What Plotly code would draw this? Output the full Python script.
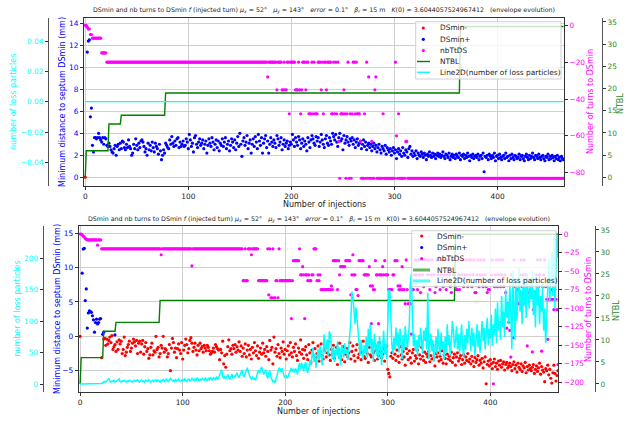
import plotly.graph_objects as go

W, H = 627, 424
FONT = "DejaVu Sans"

# ===================== DATA =====================
X_TICKS = [0, 100, 200, 300, 400]

# ---- top panel ----
TOP_DSMIN_MINUS = [0.0]
TOP_DSMIN_PLUS = [
    None, None, 11.4, 12.4, 12.5, 5.5, 6.3, 2.9, 2.3, 3.6, 3.6, 3.5, 3.6, 4.0, 3.6, 3.4, 3.2, 3.6, 3.0, 3.6,
    3.5, 2.9, 2.8, 3.1, 2.8, 2.5, 2.3, 2.2, 2.6, 2.9, 2.0, 2.8, 3.0, 2.5, 3.1, 2.6, 3.3, 3.2, 2.7, 2.5,
    3.0, 2.7, 3.4, 2.8, 2.6, 2.0, 2.2, 3.0, 2.6, 3.5, 2.9, 2.5, 3.1, 2.7, 3.3, 3.4, 3.2, 2.8, 2.3, 2.6,
    2.0, 3.1, 2.5, 2.9, 2.4, 3.2, 2.7, 2.3, 3.1, 2.8, 2.6, 2.1, 3.0, 2.4, 1.6, 2.0, 2.5, 2.2, 3.1, 2.9,
    2.7, 2.6, 3.4, 3.0, 3.7, 3.1, 2.8, 3.3, 2.9, 3.5, 3.6, 2.7, 3.2, 2.8, 3.0, 3.3, 2.8, 2.9, 3.5, 3.2,
    2.6, 3.9, 3.4, 2.8, 3.1, 2.3, 3.6, 3.8, 3.0, 2.7, 3.2, 3.5, 2.9, 3.1, 3.4, 2.6, 3.0, 3.3, 2.2, 2.9,
    3.5, 3.1, 2.8, 3.6, 3.2, 2.5, 3.0, 3.4, 2.7, 3.3, 2.4, 3.1, 2.9, 3.5, 2.8, 3.2, 3.6, 2.6, 3.0, 3.3,
    2.4, 2.9, 3.5, 3.2, 2.7, 3.4, 2.5, 3.1, 3.7, 2.8, 4.0, 3.0, 1.9, 3.3, 3.6, 2.9, 3.2, 3.8, 2.6, 3.1,
    3.4, 2.2, 3.0, 3.5, 2.8, 3.7, 3.2, 2.6, 3.9, 3.3, 2.9, 3.6, 2.2, 3.1, 3.5, 3.8, 2.7, 3.3, 2.2, 3.0,
    3.6, 3.2, 2.8, 3.4, 3.1, 2.7, 3.8, 3.5, 2.9, 3.2, 3.6, 2.5, 3.0, 3.4, 2.8, 3.1, 3.3, 2.6, 2.9, 3.2,
    3.0, 3.9, 3.4, 2.8, 3.6, 3.2, 2.9, 3.7, 3.4, 2.6, 3.1, 3.5, 2.8, 3.3, 3.0, 2.4, 3.6, 3.2, 2.7, 3.4,
    3.8, 3.5, 3.1, 2.9, 3.7, 3.3, 3.6, 2.8, 3.2, 3.9, 3.4, 3.0, 2.7, 3.5, 3.8, 3.1, 2.9, 3.6, 3.3, 3.0,
    4.0, 3.7, 3.4, 3.9, 3.2, 2.8, 3.6, 4.0, 3.3, 3.5, 2.5, 3.8, 3.1, 3.4, 3.7, 3.2, 2.9, 3.5, 3.3, 3.6,
    3.0, 3.4, 2.7, 3.2, 3.5, 2.9, 3.1, 3.3, 2.6, 3.0, 3.4, 2.8, 3.2, 2.5, 2.9, 3.1, 2.7, 3.0, 2.4, 2.8,
    3.1, 2.6, 2.9, 2.3, 2.7, 3.0, 2.5, 2.2, 2.8, 2.6, 2.4, 2.9, 2.1, 2.7, 2.5, 2.3, 2.6, 2.0, 2.4, 2.7,
    2.2, 2.5, 1.7, 2.3, 2.6, 2.1, 2.4, 1.9, 2.7, 2.2, 2.0, 2.5, 2.3, 1.8, 2.6, 2.8, 2.1, 2.4, 1.9, 2.2,
    2.0, 2.4, 1.7, 2.2, 2.0, 1.9, 2.3, 2.1, 1.8, 2.2, 2.0, 1.6, 2.1, 1.9, 2.3, 2.0, 1.8, 2.2, 1.9, 2.1,
    1.7, 2.0, 2.2, 1.9, 2.1, 1.8, 2.0, 2.3, 1.9, 1.7, 2.1, 2.0, 1.8, 2.2, 1.6, 1.9, 2.1, 1.8, 2.0, 1.7,
    2.1, 1.9, 1.8, 2.2, 1.6, 2.0, 1.9, 2.1, 1.7, 2.0, 1.8, 2.2, 1.9, 1.5, 2.0, 1.8, 2.1, 1.7, 1.9, 2.0,
    1.8, 2.1, 1.6, 1.9, 2.0, 1.7, 2.2, 0.5, 1.9, 1.8, 2.0, 1.6, 2.1, 1.9, 1.7, 2.0, 1.8, 2.2, 1.5, 1.9,
    2.0, 1.7, 2.1, 1.8, 1.6, 1.9, 2.0, 1.7, 2.2, 1.8, 1.9, 1.5, 2.0, 1.7, 2.1, 1.8, 1.6, 2.0, 1.9, 1.7,
    1.8, 2.1, 1.6, 1.9, 2.0, 1.7, 1.5, 1.9, 2.1, 1.8, 1.6, 2.0, 1.7, 1.9, 2.2, 1.8, 1.6, 2.0, 1.9, 1.7,
    2.1, 1.8, 1.6, 1.9, 2.0, 1.7, 1.5, 1.9, 1.8, 2.1, 1.6, 1.9, 1.7, 2.0, 1.8, 1.5, 1.9, 1.7, 2.0, 1.6,
    1.8, 1.5, 1.9, 1.7, 1.6,
]
TOP_NBTTDS = ([0, 0, -1, -2, -2, -5, -5] + [-7] * 9 + [-15] * 5 + [-20] * 155 + [
    -20, -28, -20, -20, -20, -20, -20, -20, -20, -20,
    -35, -20, -20, -20, -20, -35, -35, -20, -35, -35,
    -20, -20, -48, -20, -20, -20, -20, -20, -35, -35,
    -35, -20, -35, -48, -35, -20, -20, -20, -35, -20,
    -20, -48, -48, -48, -20, -48, -20, -48, -48, -48,
    -20, -20, -20, -35, -20, -48, -20, -20, -35, -20,
    -20, -20, -20, -48, -48, -20, -48, -20, -48, -20,
    -63, -83, -48, -48, -48, -35, -48, -83, -48, -20,
    -83, -48, -83, -48, -20, -20, -48, -20, -48, -48,
    -48, -63, -83, -83, -83, -48, -83, -20, -83, -28,
    -83, -83, -63, -83, -83, -35, -28, -83, -83, -83,
    -83, -83, -83, -48, -83, -83, -83, -83, -83, -83,
    -83, -83, -83, -83, -83, -20, -60, -83, -48, -83,
    -83, -83, -83, -83, -83, -63, -63,
] + [-83] * 152)
TOP_NTBL_X = [0, 1, 22, 23, 34, 35, 77, 78, 363, 364, 464]
TOP_NTBL_Y = [0, 6, 6, 12, 12, 14, 14, 19, 19, 34, 34]
TOP_LOSS = [0] * 465

# ---- bottom panel ----
BOT_DSMIN_MINUS = [0.0] + [None] * 19 + [
    None, -3.1, None, -0.4, -0.3, -1.3, -0.4, -1.1, -0.6, -0.1, -0.9, 0.1, -1.9, -1.5, -1.2, -2.2, -0.8, -1.9, -0.5, -1.1,
    -0.7, -2.5, -1.9, -0.1, -2.8, -2.3, -1.6, -1.2, -0.7, -2.2, -1.7, -1.0, -0.4, -0.8, -1.4, -0.6, -2.5, -1.0, -0.7, -2.3,
    -1.1, -0.6, -2.6, -1.5, -0.9, -2.2, -1.8, -3.2, -2.7, -1.6, -1.0, -2.7, -2.1, -2.3, 0.0, -1.9, -1.6, -3.0, -2.5, -1.3,
    -1.7, 0.0, -2.3, -1.8, -2.0, -3.0, -2.5, -1.2, -5.0, -1.7, -0.3, -0.9, -2.3, -1.7, -3.1, -1.8, -1.1, -2.0, -2.5, -0.9,
    -3.3, -2.0, -1.3, -0.4, -1.2, -2.4, -1.8, -0.6, -0.2, -1.0, -2.2, -1.6, -1.0, -2.0, -2.7, -1.3, -2.1, -1.0, -1.8, -1.5,
    -2.3, -1.3, -1.7, -2.1, -1.3, -1.6, -2.1, -2.6, -2.4, -2.2, -1.7, -2.3, -1.2, -1.5, -1.8, -2.0, -3.4, -1.9, -2.4, -0.7,
    -4.0, -2.8, -4.5, -2.6, -1.5, -0.5, -2.1, -1.8, -2.6, -1.3, -1.8, -1.2, -2.3, -1.5, -2.0, -0.8, -2.2, -1.4, -2.9, -1.7,
    -2.5, -1.1, -3.0, -2.0, -1.3, -2.7, -1.9, -3.3, -1.6, -2.4, -0.9, -2.1, -2.8, -1.4, -3.2, -2.3, -1.7, -2.6, -1.0, -2.4,
    -1.9, -2.9, -1.5, -2.2, -3.4, -0.6, -2.0, -1.6, -4.0, -0.1, -2.3, -1.8, -2.9, -1.2, -2.5, -3.1, -1.7, -2.2, -0.8, -2.6,
    -1.9, -3.3, -2.1, -1.4, -2.7, -0.9, -2.4, -3.0, -1.6, -2.2, -1.1, -2.8, -3.5, -1.7, -2.3, -0.5, -2.6, -1.9, -3.2, -2.0,
    -1.5, -2.7, -3.4, -1.2, -2.4, -3.8, -2.0, -0.9, -2.9, -1.8, -3.1, -2.5, -1.4, -3.6, -2.2, -1.1, -2.8, -3.3, -2.0, -1.7,
    -3.0, -2.4, -0.8, -2.7, -3.5, -1.9, -2.6, -1.3, -3.2, -2.3, -1.6, -4.1, -2.5, -1.0, -2.9, -3.4, -2.1, -1.5, -3.7, -2.6,
    -1.8, -3.0, -2.4, -0.9, -3.3, -2.2, -1.4, -2.8, -3.6, -2.0, -1.2, -3.1, -2.6, -1.7, -3.4, -2.3, -0.7, -2.9, -3.2, -1.9,
    -2.5, -3.8, -1.6, -2.7, -3.0, -1.1, -2.4, -3.5, -2.1, -1.5, -3.3, -2.8, -0.9, -2.2, -3.1, -2.6, -1.8, -3.6, -2.3, -1.4,
    -4.8, -5.4, -5.9, -2.9, -2.4, -3.2, -1.7, -2.6, -3.5, -2.0, -2.9, -3.8, -1.5, -2.7, -3.3, -2.2, -3.0, -4.2, -1.8, -2.5,
    -3.4, -2.1, -3.1, -3.9, -2.4, -1.9, -3.6, -2.8, -3.2, -2.0, -4.0, -2.7, -3.3, -1.6, -2.9, -3.5, -2.3, -3.8, -2.6, -3.0,
    -2.2, -3.7, -2.8, -3.3, -1.8, -3.1, -4.3, -2.5, -3.0, -2.4, -3.6, -2.9, -3.4, -2.1, -3.9, -2.7, -3.2, -4.0, -2.6, -3.3,
    -2.9, -3.5, -2.3, -3.8, -3.1, -2.6, -4.2, -3.0, -2.4, -3.6, -3.2, -2.8, -4.1, -3.4, -2.7, -3.9, -3.0, -3.5, -2.5, -3.7,
    -3.3, -4.0, -2.9, -3.6, -4.4, -3.1, -3.8, -3.4, -2.8, -4.2, -3.5, -3.9, -3.2, -4.6, -3.7, -3.0, -6.9, -4.1, -3.6, -4.3,
    -3.4, -4.0, -4.7, -3.8, -3.3, -4.4, -3.9, -4.8, -3.6, -4.2, -3.5, -4.5, -4.0, -3.7, -4.9, -4.1, -3.8, -4.6, -4.3, -3.9,
    -4.4, -5.0, -4.1, -3.7, -4.7, -4.2, -5.2, -3.9, -4.5, -4.8, -4.0, -5.1, -4.3, -4.6, -3.8, -5.3, -4.4, -4.9, -4.2, -4.7,
    -5.0, -4.5, -4.1, -5.4, -4.8, -4.3, -5.1, -4.6, -3.9, -5.5, -4.4, -4.9, -5.2, -6.6, -4.7, -5.0, -4.2, -5.6, -4.8, -6.1,
    -6.8, -5.3, -4.2, -5.4, -6.5, -5.7, -5.0,
]
BOT_DSMIN_PLUS = [
    None, None, 9.2, 12.7, 12.8, 5.2, 6.9, 1.2, 3.4, 3.7, 3.6, 3.5, 3.0, 2.4, 0.6, 2.0, 2.5, 1.8, 2.0, 2.5,
    2.6, None, 0.3, 0.6, None, None, None, None, None, None, None, None, None, None, 0.2,
]
BOT_NBTTDS = ([0, 0, -1, -3, -4, -6, -7] + [-8] * 10 + [-15] + [-8] * 3 + [-20] * 58 + [-28]
              + [-20] * 29 + [-43] + [-20] * 49 + [
    -63, -63, -20, -63, -63, -20, -20, -20, -28, -20,
    -20, -20, -20, -20, -20, -63, -63, -63, -63, -63,
    -63, -63, -63, -63, -20, -82, -20, -86, -86, -20,
    -86, -86, -63, -63, -86, -20, -63, -63, -63, -63,
    -63, -63, -63, -63, -63, -63, -63, -114, -63, -36,
    -36, -36, -36, -36, -36, -20, -55, -55, -44, -55,
    -114, -55, -55, -63, -55, -63, -63, -55, -55, -20,
    -20, -20, -63, -55, -63, -55, -75, -75, -75, -75,
    -75, -75, -75, -75, -75, -75, -70, -75, -36, -36,
    -36, -36, -75, -36, -55, -44, -44, -44, -44, -44,
    -36, -36, -36, -36, -36, -82, -55, -28, -55, -55,
    -75, -75, -83, -36, -36, -36, -36, -36, -55, -55,
    -55, -55, -55, -44, -70, -121, -70, -75, -75, -36,
    -55, -55, -121, -55, -55, -55, -44, -55, -36, -55,
    -55, -55, -75, -75, -75, -75, -55, -55, -36, -36,
    -36, -70, -75, -70, -75, -44, -75, -75, -94, -35,
    -75, -94, -94, -94, -135, -75, -75, -55, -35, -55,
    -75, -35, -55, -79, -35, -55, -71, -35, -142, -35,
    -55, -35, -75, -55, -35, -150, -55, -79, -71, -35,
    -55, -35, -75, -55, -35, -71, -55, -35, -75, -55,
    -35, -55, -71, -79, -35, -55, -35, -71, -75, -75,
    -55, -75, -35, -55, -35, -71, -55, -35, -55, -71,
    -35, -55, -35, -71, -55, -35, -79, -79, -55, -35,
    -71, -55, -35, -55, -71, -35, -55, -71, -79, -75,
    -75, -138, -55, -35, -202, -71, -55, -35, -71, -55,
    -35, -71, -55, -35, -71, -55, -79, -127, -94, -119,
    -130, -166, -55, -140, -35, -71, -94, -75, -94, -94,
    -55, -35, -71, -55, -35, -71, -55, -151, -79, -79,
    -75, -79, -159, -102, -79, -79, -55, -35, -71, -55,
    -35, -158, -71, -55, -35, -71, -88, -142, -88, -88,
    -75, -88, -88, -102, -75, -88, -102, -176,
])
BOT_NTBL_X = [0, 1, 22, 23, 34, 35, 77, 78, 365, 366, 466]
BOT_NTBL_Y = [0, 6, 6, 12, 12, 14, 14, 19, 19, 34, 34]
BOT_LOSS = [0] * 20 + [
    0, 1, 2, 3, 4, 3, 5, 7, 9, 4, 3, 5, 4, 6, 3, 4, 5, 7, 8, 4,
    3, 5, 4, 6, 4, 3, 5, 4, 6, 5, 4, 3, 5, 6, 4, 5, 7, 4, 3, 5,
    6, 4, 5, 3, 6, 5, 4, 7, 5, 3, 5, 6, 4, 5, 7, 4, 6, 5, 3, 6,
    5, 7, 4, 6, 8, 5, 4, 6, 9, 7, 5, 6, 4, 7, 5, 6, 8, 5, 4, 6,
    7, 5, 9, 6, 4, 7, 8, 5, 6, 9, 7, 5, 8, 6, 10, 7, 5, 8, 6, 9,
    7, 6, 10, 8, 5, 9, 7, 11, 8, 6, 10, 9, 7, 12, 8, 10, 14, 18, 23, 12,
    9, 13, 8, 11, 15, 10, 7, 12, 16, 9, 13, 11, 14, 18, 12, 10, 15, 20, 22, 14,
    11, 17, 24, 26, 19, 13, 10, 8, 12, 7, 9, 6, 14, 18, 22, 17, 24, 27, 21, 15,
    19, 23, 13, 9, 18, 21, 12, 6, 3, 5, 2, 8, 14, 22, 26, 24, 19, 25, 16, 12,
    10, 14, 9, 13, 17, 22, 26, 20, 24, 18, 25, 21, 15, 28, 33, 24, 34, 27, 20, 31,
    35, 22, 18, 25, 38, 30, 45, 58, 35, 48, 26, 42, 55, 38, 62, 44, 30, 52, 79, 48,
    64, 71, 45, 84, 78, 52, 40, 60, 35, 55, 45, 68, 40, 58, 30, 62, 50, 42, 65, 48,
    56, 38, 60, 75, 100, 147, 140, 120, 95, 122, 108, 85, 65, 45, 70, 55, 38, 62, 48, 75,
    42, 88, 60, 95, 50, 72, 35, 80, 56, 45, 68, 40, 76, 52, 30, 58, 85, 47, 63, 40,
    120, 150, 148, 95, 62, 48, 74, 55, 90, 60, 82, 50, 88, 65, 40, 78, 55, 92, 70, 58,
    72, 95, 160, 175, 110, 60, 80, 52, 70, 45, 78, 58, 90, 65, 48, 85, 70, 90, 55, 145,
    40, 62, 80, 52, 70, 35, 58, 75, 48, 88, 60, 45, 82, 55, 68, 40, 75, 50, 95, 62,
    78, 45, 70, 100, 85, 58, 68, 92, 55, 80, 48, 72, 95, 60, 42, 78, 55, 88, 65, 100,
    75, 52, 90, 60, 82, 45, 70, 95, 58, 85, 50, 75, 100, 68, 90, 55, 80, 105, 62, 88,
    72, 110, 60, 95, 78, 120, 65, 130, 85, 100, 70, 140, 90, 115, 75, 150, 105, 130, 95, 160,
    110, 55, 180, 120, 70, 165, 100, 145, 185, 115, 150, 95, 170, 125, 160, 105, 175, 140, 120, 165,
    135, 180, 110, 150, 90, 170, 125, 155, 95, 140, 115, 160, 85, 120, 65, 105, 160, 200, 130, 175,
    210, 140, 236, 120, 190, 238, 200,
]

# tick values
TOP_DS_TICKS = [0, 2, 4, 6, 8, 10, 12, 14]
TOP_NB_TICKS = [0, -20, -40, -60, -80]
TOP_LOSS_TICKS = [-0.04, -0.02, 0.0, 0.02, 0.04]
NTBL_TICKS = [0, 5, 10, 15, 20, 25, 30, 35]
BOT_DS_TICKS = [-5, 0, 5, 10, 15]
BOT_NB_TICKS = [0, -25, -50, -75, -100, -125, -150, -175, -200]
BOT_LOSS_TICKS = [0, 50, 100, 150, 200]

TITLE = ("DSmin and nb turns to DSmin <i>f</i> (injected turn) <i>μ<sub>x</sub></i> = 52°\u00a0\u00a0\u00a0"
         "<i>μ<sub>y</sub></i> = 143°\u00a0\u00a0\u00a0<i>error</i> = 0.1°\u00a0\u00a0\u00a0"
         "<i>β<sub>r</sub></i> = 15 m\u00a0\u00a0\u00a0<i>K</i>(0) = 3.6044057524967412\u00a0\u00a0\u00a0"
         "(envelope evolution)")
LEGEND_LABELS = ["DSmin-", "DSmin+", "nbTtDS", "NTBL", "Line2D(number of loss particles)"]

# ===================== FIGURE =====================
def xp(p):
    return p / W


def yp(p):
    return 1 - p / H


RED, BLUE, MAG, GREEN, CYAN = "#ff0000", "#0000ff", "#ff00ff", "#008000", "#00ffff"
NTBL_TXT = "#2e8b2e"
MS = 3.2

fig = go.Figure()


def add_panel(sfx, ds_minus, ds_plus, nb, ntx, nty, loss, loss_w):
    xa = "x" if sfx == 0 else "x2"
    ys = ["y", "y2", "y3", "y4"] if sfx == 0 else ["y5", "y6", "y7", "y8"]
    fig.add_trace(go.Scatter(x=list(range(len(ds_minus))), y=ds_minus, mode="markers",
                             marker=dict(color=RED, size=MS), xaxis=xa, yaxis=ys[0]))
    fig.add_trace(go.Scatter(x=list(range(len(ds_plus))), y=ds_plus, mode="markers",
                             marker=dict(color=BLUE, size=MS), xaxis=xa, yaxis=ys[0]))
    fig.add_trace(go.Scatter(x=list(range(len(nb))), y=nb, mode="markers",
                             marker=dict(color=MAG, size=MS), xaxis=xa, yaxis=ys[1]))
    fig.add_trace(go.Scatter(x=ntx, y=nty, mode="lines",
                             line=dict(color=GREEN, width=1.4), xaxis=xa, yaxis=ys[2]))
    fig.add_trace(go.Scatter(x=list(range(len(loss))), y=loss, mode="lines",
                             line=dict(color=CYAN, width=loss_w), xaxis=xa, yaxis=ys[3]))


add_panel(0, TOP_DSMIN_MINUS, TOP_DSMIN_PLUS, TOP_NBTTDS, TOP_NTBL_X, TOP_NTBL_Y, TOP_LOSS, 1.2)
add_panel(1, BOT_DSMIN_MINUS, BOT_DSMIN_PLUS, BOT_NBTTDS, BOT_NTBL_X, BOT_NTBL_Y, BOT_LOSS, 1.5)

TF = dict(family=FONT, size=7.4)
common_x = dict(showgrid=True, gridcolor="#cfcfcf", gridwidth=1, zeroline=False, showline=True,
                mirror=True, linecolor="#333", linewidth=1, ticks="outside", ticklen=3,
                tickcolor="#333", tickvals=X_TICKS, tickfont=dict(TF, color="#222"))
common_y = dict(zeroline=False, ticks="outside", ticklen=3, tickcolor="#333")

top_dom = [yp(186), yp(18)]
bot_dom = [yp(392), yp(226)]

fig.update_layout(
    width=W, height=H, margin=dict(l=0, r=0, t=0, b=0),
    paper_bgcolor="white", plot_bgcolor="white", showlegend=False,
    font=dict(family=FONT, color="#222"),
    xaxis=dict(common_x, domain=[xp(84), xp(564)], anchor="y", range=[-1.2, 464.5]),
    yaxis=dict(common_y, domain=top_dom, anchor="x", range=[-0.8, 14.5], tickvals=TOP_DS_TICKS,
               showgrid=True, gridcolor="#cfcfcf", showline=True, mirror=True, linecolor="#333",
               tickfont=dict(TF, color=BLUE)),
    yaxis2=dict(common_y, overlaying="y", anchor="x", side="right", range=[-87.2, 3.96],
                tickvals=TOP_NB_TICKS, showgrid=False, tickfont=dict(TF, color=MAG)),
    yaxis3=dict(common_y, overlaying="y", anchor="free", position=xp(602), side="right",
                range=[-1.96, 35.9], tickvals=NTBL_TICKS, showgrid=False, showline=True,
                linecolor="#555", tickfont=dict(TF, color=NTBL_TXT)),
    yaxis4=dict(common_y, overlaying="y", anchor="free", position=xp(48), side="left",
                range=[-0.0556, 0.0552], tickvals=TOP_LOSS_TICKS, tickformat=".2f", showgrid=False,
                showline=True, linecolor="#555", tickfont=dict(TF, color=CYAN)),
    xaxis2=dict(common_x, domain=[xp(78.7), xp(558.3)], anchor="y5", range=[-1.4, 466.3]),
    yaxis5=dict(common_y, domain=bot_dom, anchor="x2", range=[-8.1, 16.06], tickvals=BOT_DS_TICKS,
                showgrid=True, gridcolor="#cfcfcf", showline=True, mirror=True, linecolor="#333",
                tickfont=dict(TF, color=BLUE)),
    yaxis6=dict(common_y, overlaying="y5", anchor="x2", side="right", range=[-213.1, 10.8],
                tickvals=BOT_NB_TICKS, showgrid=False, tickfont=dict(TF, color=MAG)),
    yaxis7=dict(common_y, overlaying="y5", anchor="free", position=xp(595), side="right",
                range=[-1.82, 35.9], tickvals=NTBL_TICKS, showgrid=False, showline=True,
                linecolor="#555", tickfont=dict(TF, color=NTBL_TXT)),
    yaxis8=dict(common_y, overlaying="y5", anchor="free", position=xp(42.7), side="left",
                range=[-12.7, 251.4], tickvals=BOT_LOSS_TICKS, showgrid=False, showline=True,
                linecolor="#555", tickfont=dict(TF, color=CYAN)),
)

ann = []
shapes = []


def text(x, y, s, size, color="#222", angle=0, xanchor="center"):
    ann.append(dict(x=xp(x), y=yp(y), xref="paper", yref="paper", text=s, showarrow=False,
                    textangle=angle, xanchor=xanchor, yanchor="middle",
                    font=dict(family=FONT, size=size, color=color)))


# titles
text(324, 10, TITLE, 6.3)
text(319, 219, TITLE, 6.3)
text(324, 204, "Number of injections", 8)
text(318, 411.5, "Number of injections", 8)
# y titles top
text(13, 102, "number of loss particles", 8, CYAN, -90)
text(62, 102, "Minimum distance to septum DSmin (mm)", 8, BLUE, -90)
text(590, 102, "Number of turns to DSmin", 8, MAG, -90)
text(621, 104, "NTBL", 8, NTBL_TXT, -90)
# y titles bottom
text(16.7, 309, "number of loss particles", 8, CYAN, -90)
text(57, 309, "Minimum distance to septum DSmin (mm)", 8, BLUE, -90)
text(588, 310, "Number of turns to DSmin", 8, MAG, -90)
text(616, 311, "NTBL", 8, NTBL_TXT, -90)


def legend(bx0, bx1, by0, by1, rows, mx, tx, lx0, lx1, lw, gcol, ccol):
    shapes.append(dict(type="rect", xref="paper", yref="paper", x0=xp(bx0), x1=xp(bx1),
                       y0=yp(by1), y1=yp(by0), fillcolor="rgba(255,255,255,0.8)",
                       line=dict(color="#d0d0d0", width=1), layer="above"))
    for i, (lab, col) in enumerate(zip(LEGEND_LABELS, [RED, BLUE, MAG, gcol, ccol])):
        ry = rows[i]
        if i < 3:
            r = 1.6
            shapes.append(dict(type="circle", xref="paper", yref="paper", x0=xp(mx - r), x1=xp(mx + r),
                               y0=yp(ry + r), y1=yp(ry - r), fillcolor=col, line=dict(width=0),
                               layer="above"))
        else:
            shapes.append(dict(type="line", xref="paper", yref="paper", x0=xp(lx0), x1=xp(lx1),
                               y0=yp(ry), y1=yp(ry), line=dict(color=col, width=lw), layer="above"))
        text(tx, ry, lab, 7.4, "#222", 0, "left")


legend(415.7, 561, 21.7, 79, [28, 39.3, 50.5, 61.5, 72.3], 423.3, 438.3, 417, 430, 1.4, GREEN, CYAN)
legend(411.7, 556, 230.7, 286.7, [236, 247.5, 258.7, 270, 280.9], 421.7, 435, 413, 430, 3,
       "rgba(0,128,0,0.6)", "rgba(0,255,255,0.7)")

fig.update_layout(annotations=ann, shapes=shapes)
# the page's default 8px body margin would shift the figure; remove it
fig.write_html("out.html", config={"displayModeBar": False},
               post_script="document.body.style.margin='0';")
